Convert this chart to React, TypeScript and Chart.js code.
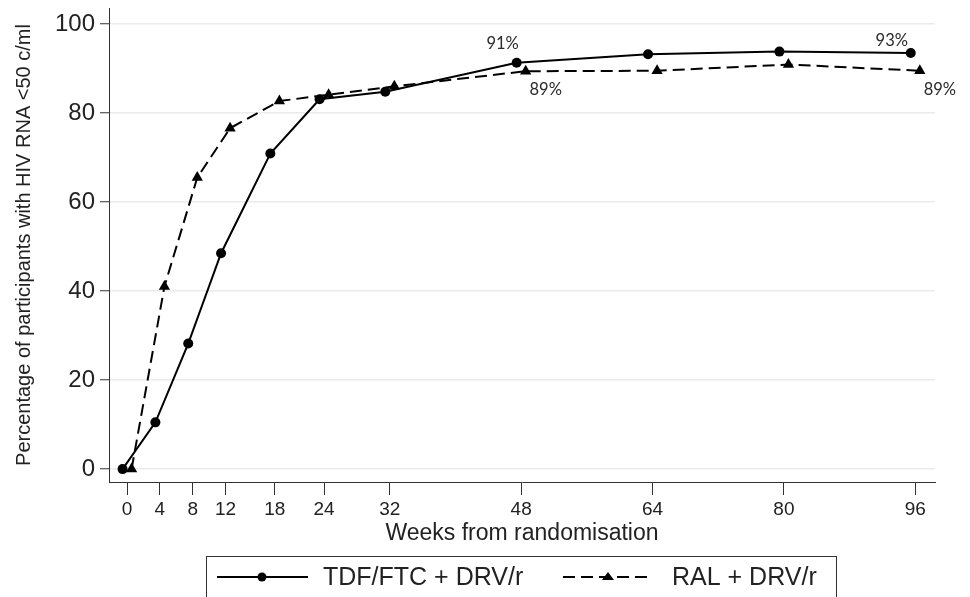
import React, { useEffect, useRef } from "react";
import { Chart, registerables } from "chart.js";

Chart.register(...registerables);

// ---- Data ----
const weeks = [0, 4, 8, 12, 18, 24, 32, 48, 64, 80, 96];
const tdfValues = [0, 10.5, 28.2, 48.5, 70.9, 83.1, 84.8, 91.3, 93.2, 93.8, 93.5];
const ralValues = [0, 41, 65.5, 76.6, 82.7, 84.1, 86, 89.4, 89.5, 90.9, 89.5];
const xTickValues = [0, 4, 8, 12, 18, 24, 32, 48, 64, 80, 96];
const yTickValues = [0, 20, 40, 60, 80, 100];
const seriesNames = ["TDF/FTC + DRV/r", "RAL + DRV/r"];
const xTitle = "Weeks from randomisation";
const yTitle = "Percentage of participants with HIV RNA <50 c/ml";
// small horizontal jitter (weeks) used in the original so markers don't overlap
const tdfJitter = -0.55;
const ralJitter = 0.55;
// point labels: dataset index, point index, text
const labelDataset = [0, 1, 0, 1];
const labelPoint = [7, 7, 10, 10];
const labelText = ["91%", "89%", "93%", "89%"];
// pixel offsets of labels from their points (style)
const labelDx = [-14, 20, -19, 20];
const labelDy = [-19, 18, -12, 19];

const AXIS_FONT = "'Liberation Sans', Arial, sans-serif";
const INK = "#222";
const AXIS_COLOR = "#333";

const pointLabelsPlugin = {
  id: "pointLabels",
  afterDatasetsDraw(chart: any) {
    const ctx = chart.ctx;
    ctx.save();
    ctx.font = "16.5px Lato, 'Open Sans', sans-serif";
    ctx.fillStyle = "#2a2a2a";
    ctx.textAlign = "center";
    ctx.textBaseline = "middle";
    labelText.forEach((t, i) => {
      const el = chart.getDatasetMeta(labelDataset[i]).data[labelPoint[i]];
      if (!el) return;
      ctx.fillText(t, el.x + labelDx[i], el.y + labelDy[i]);
    });
    ctx.restore();
  },
};

const boxLegendPlugin = {
  id: "boxLegend",
  afterDraw(chart: any) {
    const ctx = chart.ctx;
    ctx.save();
    // box
    ctx.strokeStyle = "#333";
    ctx.lineWidth = 1;
    ctx.strokeRect(206.5, 556.5, 630, 60);
    const y = 577;
    // item 1: solid line + circle
    ctx.strokeStyle = "#000";
    ctx.lineWidth = 2;
    ctx.setLineDash([]);
    ctx.beginPath();
    ctx.moveTo(217, y);
    ctx.lineTo(308, y);
    ctx.stroke();
    ctx.fillStyle = "#000";
    ctx.beginPath();
    ctx.arc(262, y, 4.5, 0, Math.PI * 2);
    ctx.fill();
    // item 2: dashed line + triangle
    ctx.setLineDash([12, 6]);
    ctx.beginPath();
    ctx.moveTo(563, y);
    ctx.lineTo(653, y);
    ctx.stroke();
    ctx.setLineDash([]);
    ctx.beginPath();
    ctx.moveTo(608, y - 5);
    ctx.lineTo(614, y + 3);
    ctx.lineTo(602, y + 3);
    ctx.closePath();
    ctx.fill();
    // text
    ctx.font = "25px " + AXIS_FONT;
    ctx.fillStyle = INK;
    ctx.textAlign = "left";
    ctx.textBaseline = "middle";
    ctx.fillText(seriesNames[0], 323, y + 1);
    ctx.fillText(seriesNames[1], 672, y + 1);
    ctx.restore();
  },
};

export default function App() {
  const canvasRef = useRef<HTMLCanvasElement | null>(null);

  useEffect(() => {
    if (!canvasRef.current) return;
    const chart = new Chart(canvasRef.current, {
      type: "line",
      data: {
        datasets: [
          {
            label: seriesNames[0],
            data: weeks.map((w, i) => ({ x: w + tdfJitter, y: tdfValues[i] })),
            borderColor: "#000",
            backgroundColor: "#000",
            borderWidth: 2,
            pointStyle: "circle",
            pointRadius: 5,
            pointBorderWidth: 0,
            tension: 0,
          },
          {
            label: seriesNames[1],
            data: weeks.map((w, i) => ({ x: w + ralJitter, y: ralValues[i] })),
            borderColor: "#000",
            backgroundColor: "#000",
            borderWidth: 2,
            borderDash: [12, 6],
            pointStyle: "triangle",
            pointRadius: 6.5,
            pointBorderWidth: 0,
            tension: 0,
          },
        ],
      },
      options: {
        responsive: false,
        animation: false,
        layout: { padding: { left: 0, top: 8, right: 35, bottom: 0 } },
        plugins: {
          legend: { display: false },
          tooltip: { enabled: false },
        },
        scales: {
          x: {
            type: "linear",
            min: -2.2,
            max: 98.4,
            afterBuildTicks: (s: any) => {
              s.ticks = xTickValues.map((v) => ({ value: v }));
            },
            afterFit: (s: any) => {
              s.height = 115;
              s.paddingLeft = 0;
              s.paddingRight = 0;
            },
            ticks: {
              autoSkip: false,
              maxRotation: 0,
              padding: 3,
              color: INK,
              font: { family: AXIS_FONT, size: 19 },
              callback: (v: any) => String(v),
            },
            grid: {
              drawOnChartArea: false,
              tickLength: 13,
              tickColor: AXIS_COLOR,
              tickWidth: 1,
            },
            border: { color: AXIS_COLOR, width: 1 },
            title: {
              display: true,
              text: xTitle,
              color: INK,
              font: { family: AXIS_FONT, size: 23 },
              padding: { top: 0, bottom: 50 },
            },
          },
          y: {
            type: "linear",
            min: -2.9,
            max: 103.6,
            afterBuildTicks: (s: any) => {
              s.ticks = yTickValues.map((v) => ({ value: v }));
            },
            afterFit: (s: any) => {
              s.width = 109;
              s.paddingTop = 0;
              s.paddingBottom = 0;
            },
            ticks: {
              padding: 5,
              color: INK,
              font: { family: AXIS_FONT, size: 24 },
            },
            grid: {
              color: "#ebebeb",
              lineWidth: 1.5,
              tickLength: 9,
              tickColor: AXIS_COLOR,
              tickWidth: 1,
            },
            border: { color: AXIS_COLOR, width: 1 },
            title: {
              display: true,
              text: yTitle,
              color: INK,
              font: { family: AXIS_FONT, size: 20 },
              padding: { top: 12, bottom: 0 },
            },
          },
        },
      },
      plugins: [pointLabelsPlugin, boxLegendPlugin],
    } as any);
    return () => chart.destroy();
  }, []);

  return (
    <div style={{ position: "fixed", left: 0, top: 0, width: 970, height: 597, background: "#fff" }}>
      <canvas ref={canvasRef} width={970} height={597} style={{ display: "block" }} />
    </div>
  );
}
